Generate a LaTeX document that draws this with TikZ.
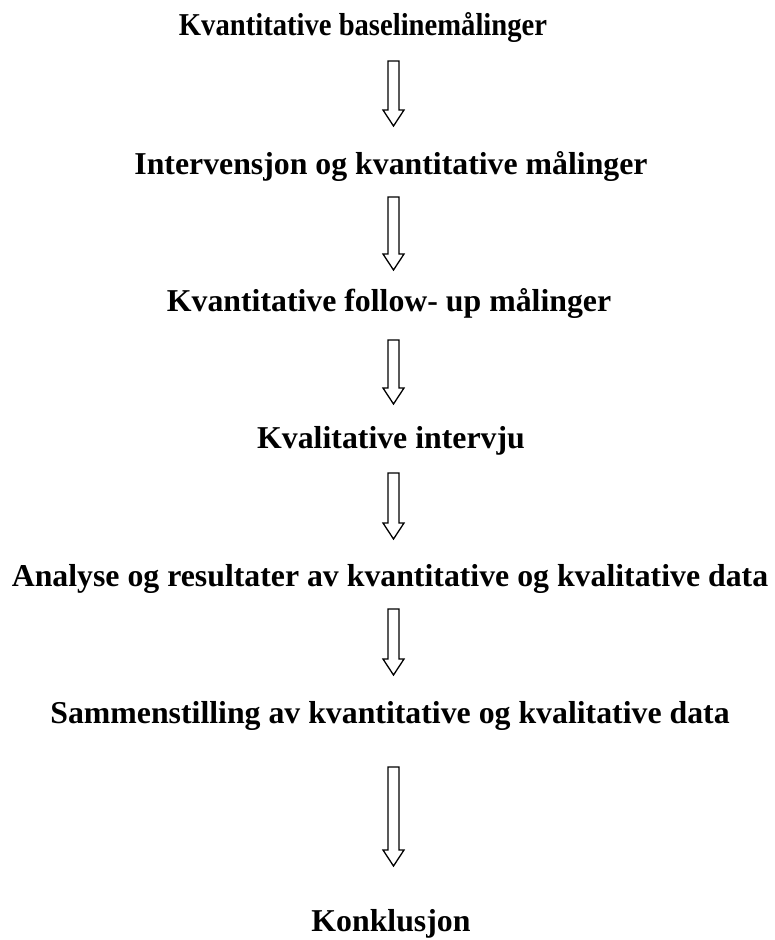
\documentclass[tikz,border=0pt]{standalone}
\usepackage{fontspec}
\setmainfont{Liberation Serif}
\usetikzlibrary{calc}

\tikzset{
	step text/.style = {anchor=base, inner sep=0pt, font=\fontsize{31.8}{36}\selectfont\bfseries},
	hollow/.style = {draw, line width=1.3pt, line join=miter, fill=white}
}
% hollow block arrow from top of shaft to tip
\newcommand{\hollowarrow}[2]{%
	\draw[hollow] ($(#1)+(-5.5,0)$) -- ($(#2)+(-5.5,-16)$) -- ($(#2)+(-10.5,-16)$) -- (#2)
		-- ($(#2)+(10.5,-16)$) -- ($(#2)+(5.5,-16)$) -- ($(#1)+(5.5,0)$) -- cycle;}

\begin{document}
\begin{tikzpicture}[x=1pt, y=-1pt]
	\path [use as bounding box] (0,0) rectangle (775,940);
	\node[step text, xscale=0.9, transform shape] (baseline) at (363,35) {Kvantitative baselinemålinger};
	\node[step text] (intervention) at (391,174) {Intervensjon og kvantitative målinger};
	\node[step text] (followup) at (389,311) {Kvantitative follow- up målinger};
	\node[step text] (interview) at (391,448) {Kvalitative intervju};
	\node[step text] (analysis) at (390,586) {Analyse og resultater av kvantitative og kvalitative data};
	\node[step text] (synthesis) at (390,723) {Sammenstilling av kvantitative og kvalitative data};
	\node[step text] (conclusion) at (391,931) {Konklusjon};
	% arrows
	\coordinate (a1s) at (393.5,61);  \coordinate (a1e) at (393.5,126);
	\coordinate (a2s) at (393.5,197); \coordinate (a2e) at (393.5,270);
	\coordinate (a3s) at (393.5,340); \coordinate (a3e) at (393.5,404);
	\coordinate (a4s) at (393.5,473); \coordinate (a4e) at (393.5,539);
	\coordinate (a5s) at (393.5,609); \coordinate (a5e) at (393.5,675);
	\coordinate (a6s) at (393.5,767); \coordinate (a6e) at (393.5,866);
	\hollowarrow{a1s}{a1e}
	\hollowarrow{a2s}{a2e}
	\hollowarrow{a3s}{a3e}
	\hollowarrow{a4s}{a4e}
	\hollowarrow{a5s}{a5e}
	\hollowarrow{a6s}{a6e}
\end{tikzpicture}
\end{document}
